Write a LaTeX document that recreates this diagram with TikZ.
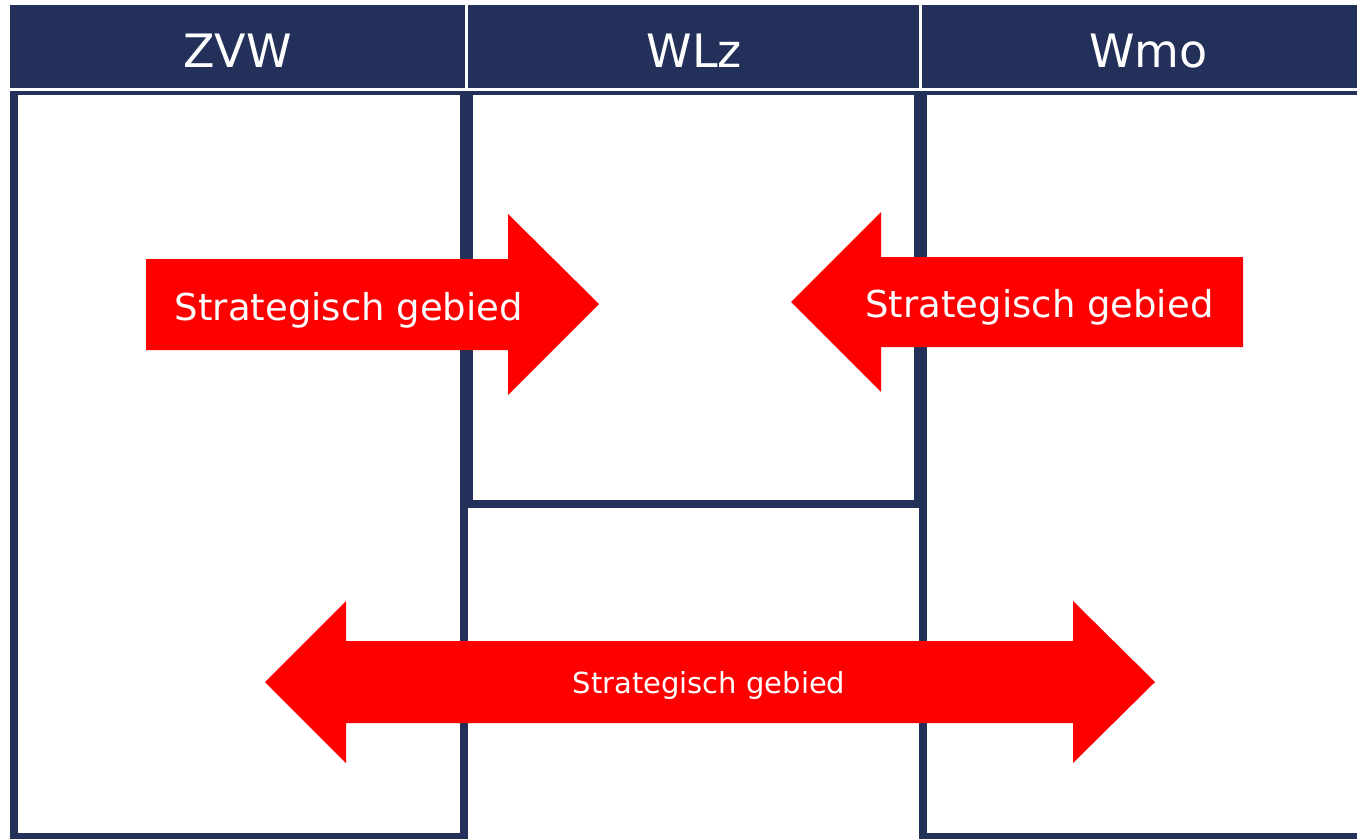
\documentclass[tikz,border=0pt]{standalone}
\usepackage{fontspec}
\setmainfont{DejaVu Sans}
\definecolor{navy}{RGB}{34,48,90}
\definecolor{arrred}{RGB}{255,0,0}
\begin{document}
\begin{tikzpicture}[x=1pt,y=-1pt,
  frame/.style={draw=navy,line width=8pt},
  hdrtext/.style={text=white,font=\fontsize{46}{50}\selectfont,anchor=base,inner sep=0pt},
  bigtext/.style={text=white,font=\fontsize{37}{40}\selectfont,anchor=base,inner sep=0pt},
  smalltext/.style={text=white,font=\fontsize{29}{32}\selectfont,anchor=base,inner sep=0pt},
  sep/.style={draw=white,line width=3pt},
  arrowshape/.style={fill=arrred}]
\useasboundingbox (0,0) rectangle (1357,838);
\fill[white] (0,0) rectangle (1357,838);
% column boxes
\draw[frame] (14,91) rectangle (464,837);
\draw[frame] (923,91) rectangle (1375,837);
\draw[frame] (469,91) rectangle (918,504);
\draw[frame] (464,504) -- (923,504);
% header
\fill[navy] (10,5) rectangle (1357,88);
\draw[sep] (10,89.5) -- (1357,89.5);
\draw[sep] (466.5,4) -- (466.5,89.5);
\draw[sep] (920.5,4) -- (920.5,89.5);
\node[hdrtext] (zvw) at (237.5,67) {ZVW};
\node[hdrtext] (wlz) at (694.5,67) {WLz};
\node[hdrtext] (wmo) at (1148.5,67) {Wmo};
% arrows
\fill[arrowshape] (146,259) -- (508,259) -- (508,214) -- (599,304) -- (508,395) -- (508,350) -- (146,350) -- cycle;
\fill[arrowshape] (1243,257) -- (881,257) -- (881,212) -- (791,302) -- (881,392) -- (881,347) -- (1243,347) -- cycle;
\fill[arrowshape] (265,682) -- (346,601) -- (346,641) -- (1073,641) -- (1073,601) -- (1155,682) -- (1073,763) -- (1073,723) -- (346,723) -- (346,763) -- cycle;
\node[bigtext] (a1) at (349,320) {Strategisch gebied};
\node[bigtext] (a2) at (1039.5,317) {Strategisch gebied};
\node[smalltext] (a3) at (709,693) {Strategisch gebied};
\end{tikzpicture}
\end{document}
